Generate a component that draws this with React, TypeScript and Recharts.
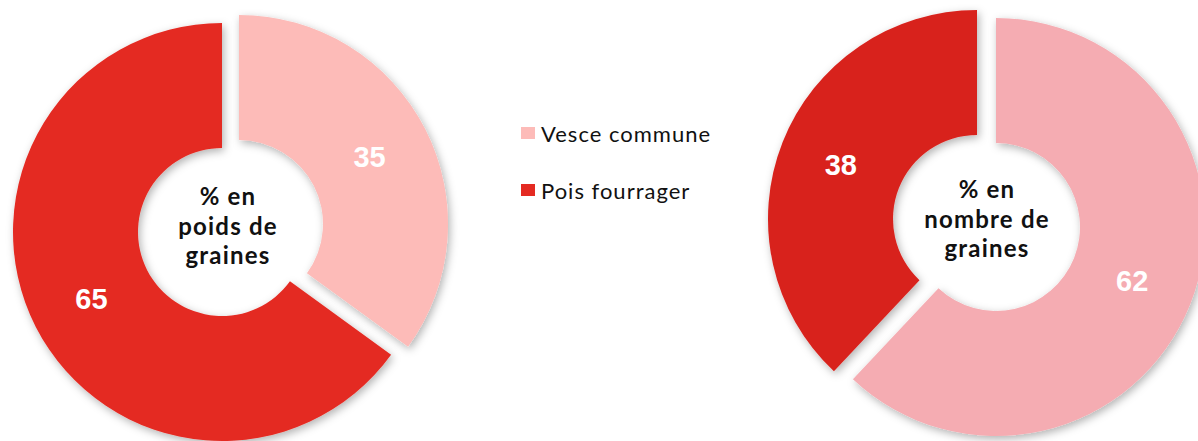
import React from "react";
import { Cell, Legend, Pie, PieChart } from "recharts";

const SERIES = ["Vesce commune", "Pois fourrager"];
const POIDS = [35, 65];
const NOMBRE = [62, 38];
const POIDS_TITLE = ["% en", "poids de", "graines"];
const NOMBRE_TITLE = ["% en", "nombre de", "graines"];

const LEFT_COLORS = ["#FDBBB8", "#E42A22"];
const RIGHT_COLORS = ["#F5ACB2", "#D8221D"];

const WIDTH = 1198;
const HEIGHT = 441;
const INNER = 84;
const OUTER = 209;
const RAD = Math.PI / 180;

const poidsData = SERIES.map((name, i) => ({ name, value: POIDS[i] }));
const nombreData = SERIES.map((name, i) => ({ name, value: NOMBRE[i] }));

function sliceLabel(visible: number) {
  return (props: any) => {
    if (props.index !== visible) return <g />;
    const { cx, cy, midAngle, innerRadius, outerRadius, value } = props;
    const r = (innerRadius + outerRadius) / 2;
    const x = cx + r * Math.cos(-midAngle * RAD);
    const y = cy + r * Math.sin(-midAngle * RAD);
    return (
      <text
        x={x}
        y={y}
        fill="#fff"
        textAnchor="middle"
        dominantBaseline="central"
        fontFamily="'Liberation Sans', Arial, sans-serif"
        fontWeight={700}
        fontSize={29}
      >
        {value}
      </text>
    );
  };
}

function CenterTitle({ x, y, lines }: { x: number; y: number; lines: string[] }) {
  return (
    <text
      x={x}
      y={y}
      textAnchor="middle"
      fontFamily="Lato, 'Open Sans', sans-serif"
      fontWeight={700}
      fontSize={24}
      letterSpacing={1.2}
      fill="#111"
    >
      {lines.map((line, i) => (
        <tspan key={line} x={x} dy={i === 0 ? 0 : 29.5}>
          {line}
        </tspan>
      ))}
    </text>
  );
}

function LegendBox() {
  return (
    <div style={{ position: "relative", width: 220, height: 80 }}>
      {SERIES.map((name, i) => (
        <div
          key={name}
          style={{
            position: "absolute",
            left: 0,
            top: i * 57,
            display: "flex",
            alignItems: "center",
            height: 30,
          }}
        >
          <span
            style={{
              display: "inline-block",
              width: 14,
              height: 12,
              background: LEFT_COLORS[i],
              marginRight: 6,
            }}
          />
          <span
            style={{
              fontFamily: "Lato, 'Open Sans', sans-serif",
              fontSize: 22,
              letterSpacing: 1,
              color: "#111",
              whiteSpace: "nowrap",
            }}
          >
            {name}
          </span>
        </div>
      ))}
    </div>
  );
}

export default function App() {
  return (
    <div style={{ position: "absolute", left: 0, top: 0, width: WIDTH, height: HEIGHT, background: "#fff" }}>
      <PieChart width={WIDTH} height={HEIGHT} margin={{ top: 0, right: 0, bottom: 0, left: 0 }}>
        <defs>
          <filter id="sliceShadow" x="-20%" y="-20%" width="140%" height="140%">
            <feDropShadow dx="2" dy="3" stdDeviation="4" floodColor="#000" floodOpacity="0.3" />
          </filter>
        </defs>

        {/* poids : Pois fourrager en place, Vesce commune détachée */}
        <Pie
          data={poidsData}
          dataKey="value"
          nameKey="name"
          cx={222}
          cy={232}
          innerRadius={INNER}
          outerRadius={OUTER}
          startAngle={90}
          endAngle={-270}
          stroke="none"
          label={sliceLabel(1)}
          labelLine={false}
          isAnimationActive={false}
          legendType="none"
        >
          <Cell fill="none" />
          <Cell fill={LEFT_COLORS[1]} filter="url(#sliceShadow)" />
        </Pie>
        <Pie
          data={poidsData}
          dataKey="value"
          nameKey="name"
          cx={239}
          cy={224}
          innerRadius={INNER}
          outerRadius={OUTER}
          startAngle={90}
          endAngle={-270}
          stroke="none"
          label={sliceLabel(0)}
          labelLine={false}
          isAnimationActive={false}
          legendType="none"
        >
          <Cell fill={LEFT_COLORS[0]} filter="url(#sliceShadow)" />
          <Cell fill="none" />
        </Pie>

        {/* nombre : Vesce commune en place, Pois fourrager détaché */}
        <Pie
          data={nombreData}
          dataKey="value"
          nameKey="name"
          cx={996}
          cy={227}
          innerRadius={INNER}
          outerRadius={OUTER}
          startAngle={90}
          endAngle={-270}
          stroke="none"
          label={sliceLabel(0)}
          labelLine={false}
          isAnimationActive={false}
          legendType="none"
        >
          <Cell fill={RIGHT_COLORS[0]} filter="url(#sliceShadow)" />
          <Cell fill="none" />
        </Pie>
        <Pie
          data={nombreData}
          dataKey="value"
          nameKey="name"
          cx={977}
          cy={219}
          innerRadius={INNER}
          outerRadius={OUTER}
          startAngle={90}
          endAngle={-270}
          stroke="none"
          label={sliceLabel(1)}
          labelLine={false}
          isAnimationActive={false}
          legendType="none"
        >
          <Cell fill="none" />
          <Cell fill={RIGHT_COLORS[1]} filter="url(#sliceShadow)" />
        </Pie>

        <CenterTitle x={228} y={205} lines={POIDS_TITLE} />
        <CenterTitle x={987} y={198} lines={NOMBRE_TITLE} />

        <Legend
          content={() => <LegendBox />}
          layout="vertical"
          verticalAlign="middle"
          align="right"
          wrapperStyle={{ left: 521, top: 118, right: "auto", width: 220 }}
        />
      </PieChart>
    </div>
  );
}
